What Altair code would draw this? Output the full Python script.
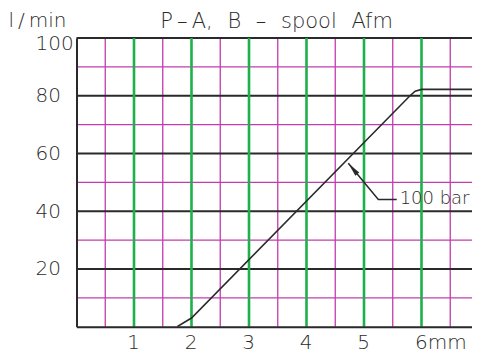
import altair as alt
import pandas as pd

# ---- data ----
x_major = [1, 2, 3, 4, 5, 6]
x_minor = [0.5, 1.5, 2.5, 3.5, 4.5, 5.5, 6.5]
y_major = [20, 40, 60, 80, 100]
y_minor = [10, 30, 50, 70, 90]

curve_x = [1.75, 2.0, 5.8, 5.89, 6.0, 7.0]
curve_y = [0, 3, 80, 81.6, 82.2, 82.2]

leader_x = [4.727, 5.249, 5.57]
leader_y = [56.6, 44.1, 44.1]
note_x = [5.62]
note_y = [44.1]
note_text = ["100 bar"]

GAP = "\u2002\u2009"
title_text = ["P\u2009\u2013\u2009A," + GAP + "B" + GAP + "\u2013" + GAP + "spool" + GAP + "Afm"]
y_title = "l\u2009/\u2009min"

FONT = "DejaVu Sans"
TXT = "#2b2b2b"
GREEN = "#1db04b"
MAGENTA = "#c23cae"
BLACK = "#2a2a2a"

W, H = 395.5, 288.7
X_MAX = W / 57.5  # visible part of the 0..7 mm grid

xs = alt.Scale(domain=[0, X_MAX], nice=False, zero=False)
ys = alt.Scale(domain=[0, 100], nice=False)

x_axis = alt.Axis(
    values=x_major, ticks=False, tickSize=0, grid=False, title=None, format="d",
    labelExpr="datum.value == 6 ? '6mm' : datum.label",
    labelAlign={"expr": "datum.value == 6 ? 'left' : 'center'"},
    labelOffset={"expr": "datum.value == 6 ? -7 : -1"},
    labelBaseline="top", labelPadding=6,
    labelFont=FONT, labelFontSize=20, labelColor=TXT, labelFontWeight=200,
    domainColor=BLACK, domainWidth=2, zindex=1,
)
y_axis = alt.Axis(
    values=y_major, ticks=False, tickSize=0, grid=False,
    title=y_title, titleAngle=0, titleX=-68.5, titleY=-11.5,
    titleAlign="left", titleBaseline="alphabetic",
    titleFont=FONT, titleFontSize=20, titleFontWeight=200, titleColor=TXT,
    labelAlign="left", labelBaseline="middle", labelPadding=41.5,
    labelOffset={"expr": "datum.value == 100 ? 6 : 0"},
    labelFont=FONT, labelFontSize=20, labelColor=TXT, labelFontWeight=200,
    domainColor=BLACK, domainWidth=2, zindex=1,
)

vminor = alt.Chart(pd.DataFrame({"x": x_minor})).mark_rule(
    color=MAGENTA, strokeWidth=1.3).encode(x=alt.X("x:Q", scale=xs, axis=x_axis))
hminor = alt.Chart(pd.DataFrame({"y": y_minor})).mark_rule(
    color=MAGENTA, strokeWidth=1.3).encode(y=alt.Y("y:Q", scale=ys, axis=y_axis))
hmajor = alt.Chart(pd.DataFrame({"y": y_major})).mark_rule(
    color=BLACK, strokeWidth=2).encode(y=alt.Y("y:Q", scale=ys))
vmajor = alt.Chart(pd.DataFrame({"x": x_major})).mark_rule(
    color=GREEN, strokeWidth=2.6).encode(x=alt.X("x:Q", scale=xs))

curve = alt.Chart(pd.DataFrame({"x": curve_x, "y": curve_y})).mark_line(
    color=BLACK, strokeWidth=1.6, interpolate="linear", clip=True).encode(
    x=alt.X("x:Q", scale=xs), y=alt.Y("y:Q", scale=ys))

leader = alt.Chart(pd.DataFrame({"x": leader_x, "y": leader_y})).mark_line(
    color=BLACK, strokeWidth=1.5).encode(
    x=alt.X("x:Q", scale=xs), y=alt.Y("y:Q", scale=ys))

arrow = alt.Chart(pd.DataFrame({"x": leader_x[:1], "y": leader_y[:1]})).mark_point(
    shape="M0,0L-0.36,2L0.36,2Z", size=196, filled=True, color=BLACK,
    opacity=1, angle=320).encode(
    x=alt.X("x:Q", scale=xs), y=alt.Y("y:Q", scale=ys))

note = alt.Chart(pd.DataFrame({"x": note_x, "y": note_y, "t": note_text})).mark_text(
    align="left", baseline="middle", font=FONT, fontSize=18, fontWeight=200,
    color=TXT).encode(
    x=alt.X("x:Q", scale=xs), y=alt.Y("y:Q", scale=ys), text="t:N")

# chart heading, centred over the full 0..7 mm grid
heading = alt.Chart(pd.DataFrame({"t": title_text})).mark_text(
    align="center", baseline="alphabetic", font=FONT, fontSize=21, fontWeight=200,
    color=TXT).encode(
    x=alt.value(200), y=alt.value(-9.5), text="t:N")

chart = alt.layer(
    vminor, hminor, hmajor, vmajor, curve, leader, arrow, note, heading
).properties(
    width=W, height=H,
    autosize=alt.AutoSizeParams(type="none"),
    padding={"left": 68.5, "top": 30, "right": 0, "bottom": 28},
).configure_view(stroke=None).configure(background="white")

chart.save("out.html", embed_options={"renderer": "svg", "actions": False})
